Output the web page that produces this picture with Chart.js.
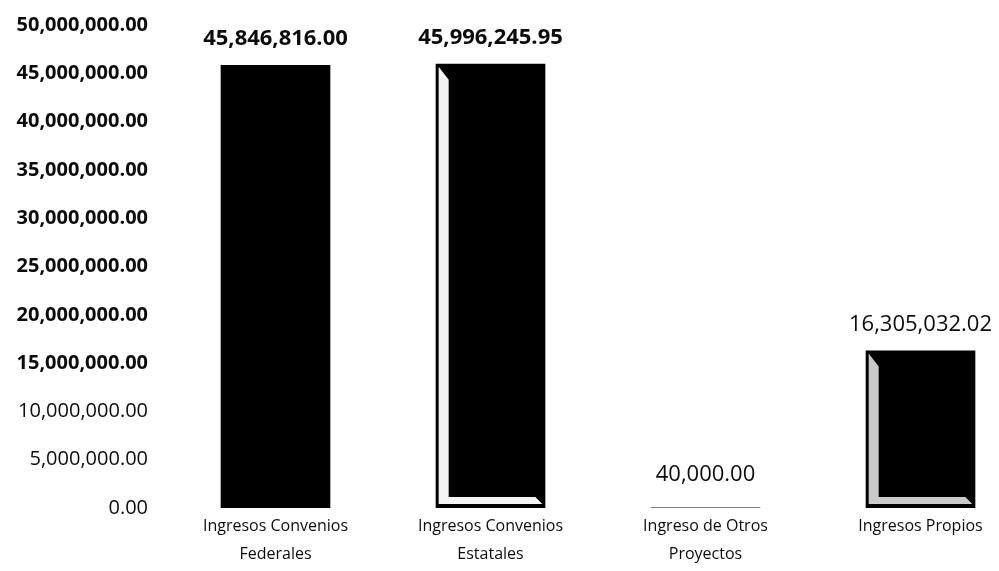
<!DOCTYPE html>
<html>
<head>
<meta charset="utf-8">
<script src="https://cdn.jsdelivr.net/npm/chart.js@4/dist/chart.umd.min.js"></script>
<style>
  html, body { margin: 0; padding: 0; background: #fff; overflow: hidden; }
  #wrap { width: 1030px; height: 571px; }
</style>
</head>
<body>
<div id="wrap"><canvas id="chartIngresos" width="1030" height="571"></canvas></div>
<script>
// income by source
const categories = [
  ['Ingresos Convenios', 'Federales'],
  ['Ingresos Convenios', 'Estatales'],
  ['Ingreso de Otros', 'Proyectos'],
  'Ingresos Propios',
];
const amounts = [45846816.00, 45996245.95, 40000.00, 16305032.02];

const Y_MAX = 50000000;
const Y_STEP = 5000000;

const FONT = '"Open Sans", "Noto Sans", sans-serif';
const INK = '#0c0c0c';

function fmtMoney(v) {
  return Number(v).toLocaleString('en-US', { minimumFractionDigits: 2, maximumFractionDigits: 2 });
}

// value labels above each bar; first two are set bold
const valueLabels = {
  id: 'valueLabels',
  afterDatasetsDraw(chart) {
    const { ctx } = chart;
    const meta = chart.getDatasetMeta(0);
    ctx.save();
    ctx.fillStyle = INK;
    ctx.textAlign = 'center';
    ctx.textBaseline = 'middle';
    meta.data.forEach((bar, i) => {
      const bold = i < 2;
      ctx.font = (bold ? 'bold ' : '') + '22px ' + FONT;
      const off = bar.base - bar.y < 5 ? 33 : 26;
      ctx.fillText(fmtMoney(amounts[i]), bar.x, bar.y - off);
    });
    ctx.restore();
  }
};

// light bevel on the left and bottom inner edges of some bars
const bevel = {
  id: 'bevel',
  afterDatasetsDraw(chart) {
    const { ctx } = chart;
    const meta = chart.getDatasetMeta(0);
    const shades = { 1: '#f4f4f4', 3: '#c9c9c9' };
    ctx.save();
    meta.data.forEach((bar, i) => {
      if (!shades[i]) return;
      const L = bar.x - bar.width / 2 + 3;
      const R = bar.x + bar.width / 2 - 3;
      const T = bar.y + 3;
      const B = bar.base - 4;
      const s = 10, b = 7;
      ctx.fillStyle = shades[i];
      ctx.beginPath();
      ctx.moveTo(L, T);
      ctx.lineTo(L + s, T + s * 1.3);
      ctx.lineTo(L + s, B - b);
      ctx.lineTo(R - b, B - b);
      ctx.lineTo(R, B);
      ctx.lineTo(L, B);
      ctx.closePath();
      ctx.fill();
    });
    ctx.restore();
  }
};

new Chart(document.getElementById('chartIngresos').getContext('2d'), {
  type: 'bar',
  data: {
    labels: categories,
    datasets: [{
      data: amounts,
      backgroundColor: '#000',
      borderWidth: 0,
      barPercentage: 0.51,
      categoryPercentage: 1,
    }]
  },
  options: {
    responsive: false,
    animation: false,
    layout: { padding: { top: 25, right: 2, left: 0, bottom: 0 } },
    plugins: {
      legend: { display: false },
      tooltip: { enabled: false },
    },
    scales: {
      x: {
        grid: { display: false, drawTicks: false },
        border: { display: false },
        afterFit: s => { s.height = 63; },
        ticks: {
          color: INK,
          padding: 4,
          maxRotation: 0,
          autoSkip: false,
          font: { family: FONT, size: 16, lineHeight: 1.75 },
        }
      },
      y: {
        min: 0,
        max: Y_MAX,
        grid: { display: false, drawTicks: false },
        border: { display: false },
        afterFit: s => { s.width = 168; s.paddingTop = 0; s.paddingBottom = 0; },
        ticks: {
          stepSize: Y_STEP,
          color: INK,
          padding: 20,
          font: ctx => ({
            family: FONT,
            size: 20,
            weight: ctx.tick && ctx.tick.value >= 15000000 ? 'bold' : 'normal',
          }),
          callback: v => fmtMoney(v),
        }
      }
    }
  },
  plugins: [bevel, valueLabels]
});
</script>
</body>
</html>
